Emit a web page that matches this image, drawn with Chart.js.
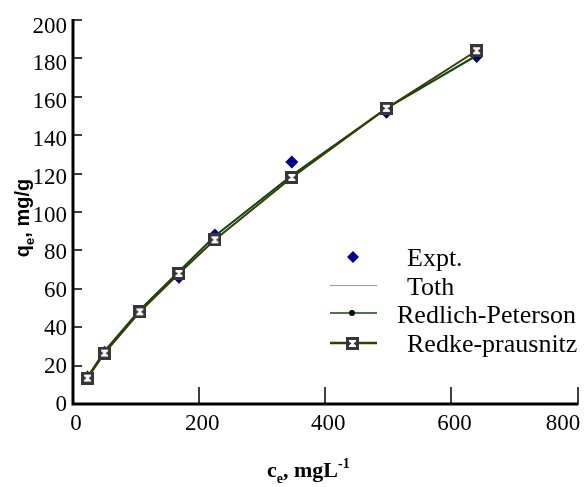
<!DOCTYPE html>
<html>
<head>
<meta charset="utf-8">
<script src="https://cdn.jsdelivr.net/npm/chart.js@4.4.0/dist/chart.umd.min.js"></script>
<style>
  body { margin: 0; background: #fff; }
  #isoChart { display: block; }
</style>
</head>
<body>
<canvas id="isoChart" width="584" height="487"></canvas>
<script>
var ceValues = [23, 50, 106, 168, 225, 347, 497, 640];
var exptQe = [14, 27, 48, 66, 88, 126, 152, 181];
var tothQe = [14, 27.5, 49, 69, 87.5, 119.5, 154, 182];
var rpQe = [14, 27.5, 49, 69, 87.5, 119, 154, 181.5];
var rkpQe = [13.5, 26.5, 48, 68, 85.5, 118, 154, 184];
var xTicks = [0, 200, 400, 600, 800];
var yTicks = [0, 20, 40, 60, 80, 100, 120, 140, 160, 180, 200];
var seriesNames = ['Expt.', 'Toth', 'Redlich-Peterson', 'Redke-prausnitz'];

var serif = '"Liberation Serif", "Times New Roman", Times, serif';

function toPoints(ys) {
	var pts = [];
	for (var i = 0; i < ceValues.length; i++) {
		pts.push({x: ceValues[i], y: ys[i]});
	}
	return pts;
}

// square marker with a white hourglass, like the original
var rkpMark = document.createElement('canvas');
rkpMark.width = 13;
rkpMark.height = 13;
(function () {
	var c = rkpMark.getContext('2d');
	c.fillStyle = '#363636';
	c.fillRect(0, 0, 13, 13);
	c.fillStyle = '#fff';
	c.beginPath();
	c.moveTo(3, 3); c.lineTo(10, 3); c.lineTo(10, 4.5); c.lineTo(7.5, 6.5);
	c.lineTo(10, 8.5); c.lineTo(10, 10); c.lineTo(3, 10); c.lineTo(3, 8.5);
	c.lineTo(5.5, 6.5); c.lineTo(3, 4.5);
	c.closePath();
	c.fill();
})();

var axesPlugin = {
	id: 'axesPlugin',
	afterDatasetsDraw: function (chart) {
		var ctx = chart.ctx;
		var xs = chart.scales.x, ys = chart.scales.y;
		var left = xs.getPixelForValue(0), bottom = ys.getPixelForValue(0);
		ctx.save();
		ctx.strokeStyle = '#000';
		ctx.lineWidth = 3;
		ctx.beginPath();
		ctx.moveTo(left, ys.getPixelForValue(200) - 1);
		ctx.lineTo(left, bottom);
		ctx.lineTo(xs.getPixelForValue(800) + 1, bottom);
		ctx.stroke();
		ctx.lineWidth = 1.5;
		ctx.beginPath();
		yTicks.forEach(function (v) {
			var py = Math.round(ys.getPixelForValue(v));
			ctx.moveTo(left, py);
			ctx.lineTo(left + 9, py);
		});
		xTicks.forEach(function (v) {
			var px = Math.round(xs.getPixelForValue(v));
			ctx.moveTo(px, bottom);
			ctx.lineTo(px, bottom - 17);
		});
		ctx.stroke();
		ctx.restore();
	},
	afterDraw: function (chart) {
		var ctx = chart.ctx;
		var xs = chart.scales.x, ys = chart.scales.y;

		// tick labels
		ctx.save();
		ctx.fillStyle = '#000';
		ctx.font = '23px ' + serif;
		ctx.textBaseline = 'alphabetic';
		ctx.textAlign = 'right';
		yTicks.forEach(function (v) {
			var py = ys.getPixelForValue(v) + v / 200 * 6 - 1;
			ctx.fillText(String(v), 67, py + 7.5);
		});
		ctx.textAlign = 'center';
		xTicks.forEach(function (v) {
			var px = xs.getPixelForValue(v) + 3;
			if (v === 800) px = chart.width - 21;
			ctx.fillText(String(v), px, 430);
		});
		ctx.restore();

		// y title: q_e, mg/g
		ctx.save();
		ctx.fillStyle = '#000';
		ctx.translate(29, 218);
		ctx.rotate(-Math.PI / 2);
		ctx.font = 'bold 20px "Liberation Sans", Arial, sans-serif';
		var w1 = ctx.measureText('q').width;
		var w3 = ctx.measureText(', mg/g').width;
		ctx.font = 'bold 13px "Liberation Sans", Arial, sans-serif';
		var w2 = ctx.measureText('e').width;
		var x0 = -(w1 + w2 + w3) / 2;
		ctx.textBaseline = 'alphabetic';
		ctx.font = 'bold 20px "Liberation Sans", Arial, sans-serif';
		ctx.fillText('q', x0, 0);
		ctx.font = 'bold 13px "Liberation Sans", Arial, sans-serif';
		ctx.fillText('e', x0 + w1, 5);
		ctx.font = 'bold 20px "Liberation Sans", Arial, sans-serif';
		ctx.fillText(', mg/g', x0 + w1 + w2, 0);
		ctx.restore();

		// x title: c_e, mgL^-1
		ctx.save();
		ctx.fillStyle = '#000';
		var bx = 267, by = 477;
		ctx.font = 'bold 22px ' + serif;
		ctx.fillText('c', bx, by);
		bx += ctx.measureText('c').width;
		ctx.font = 'bold 14px ' + serif;
		ctx.fillText('e', bx, by + 6);
		bx += ctx.measureText('e').width;
		ctx.font = 'bold 22px ' + serif;
		ctx.fillText(', mgL', bx, by);
		bx += ctx.measureText(', mgL').width;
		ctx.font = 'bold 14px ' + serif;
		ctx.fillText('-1', bx, by - 9);
		ctx.restore();

		// legend inside the plot
		ctx.save();
		ctx.font = '26px ' + serif;
		ctx.fillStyle = '#000';
		ctx.textBaseline = 'alphabetic';
		// Expt.
		ctx.fillStyle = '#00008b';
		ctx.beginPath();
		ctx.moveTo(353, 251); ctx.lineTo(359, 257); ctx.lineTo(353, 263); ctx.lineTo(347, 257);
		ctx.closePath();
		ctx.fill();
		ctx.fillStyle = '#000';
		ctx.fillText(seriesNames[0], 407, 266);
		// Toth
		ctx.strokeStyle = '#9a9a9a';
		ctx.lineWidth = 1;
		ctx.beginPath(); ctx.moveTo(330, 285.5); ctx.lineTo(377, 285.5); ctx.stroke();
		ctx.fillText(seriesNames[1], 407, 295);
		// Redlich-Peterson
		ctx.strokeStyle = '#0a4a0a';
		ctx.lineWidth = 1.5;
		ctx.beginPath(); ctx.moveTo(330, 313); ctx.lineTo(377, 313); ctx.stroke();
		ctx.beginPath(); ctx.arc(352, 313, 3, 0, Math.PI * 2); ctx.fill();
		ctx.fillText(seriesNames[2], 397, 323);
		// Redke-prausnitz
		ctx.strokeStyle = '#3d3a05';
		ctx.lineWidth = 2.5;
		ctx.beginPath(); ctx.moveTo(330, 343); ctx.lineTo(377, 343); ctx.stroke();
		ctx.drawImage(rkpMark, 346, 337);
		ctx.fillText(seriesNames[3], 407, 352);
		ctx.restore();
	}
};

var ctx = document.getElementById('isoChart');
var isoChart = new Chart(ctx, {
	type: 'scatter',
	data: {
		datasets: [{
			label: seriesNames[0],
			data: toPoints(exptQe),
			pointStyle: 'rectRot',
			pointRadius: 6.5,
			backgroundColor: '#00008b',
			borderWidth: 0,
			showLine: false,
			order: 3
		}, {
			label: seriesNames[1],
			data: toPoints(tothQe),
			showLine: true,
			borderColor: '#9a9a9a',
			borderWidth: 1,
			pointRadius: 0,
			order: 2
		}, {
			label: seriesNames[2],
			data: toPoints(rpQe),
			showLine: true,
			borderColor: '#0a4a0a',
			borderWidth: 2,
			pointRadius: 2.5,
			backgroundColor: '#000',
			pointBorderWidth: 0,
			order: 1
		}, {
			label: seriesNames[3],
			data: toPoints(rkpQe),
			showLine: true,
			borderColor: '#3d3a05',
			borderWidth: 2,
			pointStyle: rkpMark,
			order: 0
		}]
	},
	options: {
		responsive: false,
		animation: false,
		devicePixelRatio: 1,
		layout: { padding: { left: 0, right: 6, top: 20, bottom: 0 } },
		plugins: {
			legend: { display: false },
			tooltip: { enabled: false }
		},
		scales: {
			x: {
				type: 'linear',
				min: 0,
				max: 800,
				grid: { display: false, drawTicks: false },
				border: { display: false },
				afterBuildTicks: function (scale) {
					scale.ticks = xTicks.map(function (v) { return {value: v}; });
				},
				ticks: { display: false },
				afterFit: function (scale) {
					scale.height = 83;
					scale.paddingLeft = 0;
					scale.paddingRight = 0;
				}
			},
			y: {
				type: 'linear',
				min: 0,
				max: 200,
				grid: { display: false, drawTicks: false },
				border: { display: false },
				afterBuildTicks: function (scale) {
					scale.ticks = yTicks.map(function (v) { return {value: v}; });
				},
				ticks: { display: false },
				afterFit: function (scale) {
					scale.width = 73;
					scale.paddingTop = 0;
					scale.paddingBottom = 0;
				}
			}
		}
	},
	plugins: [axesPlugin]
});
</script>
</body>
</html>
